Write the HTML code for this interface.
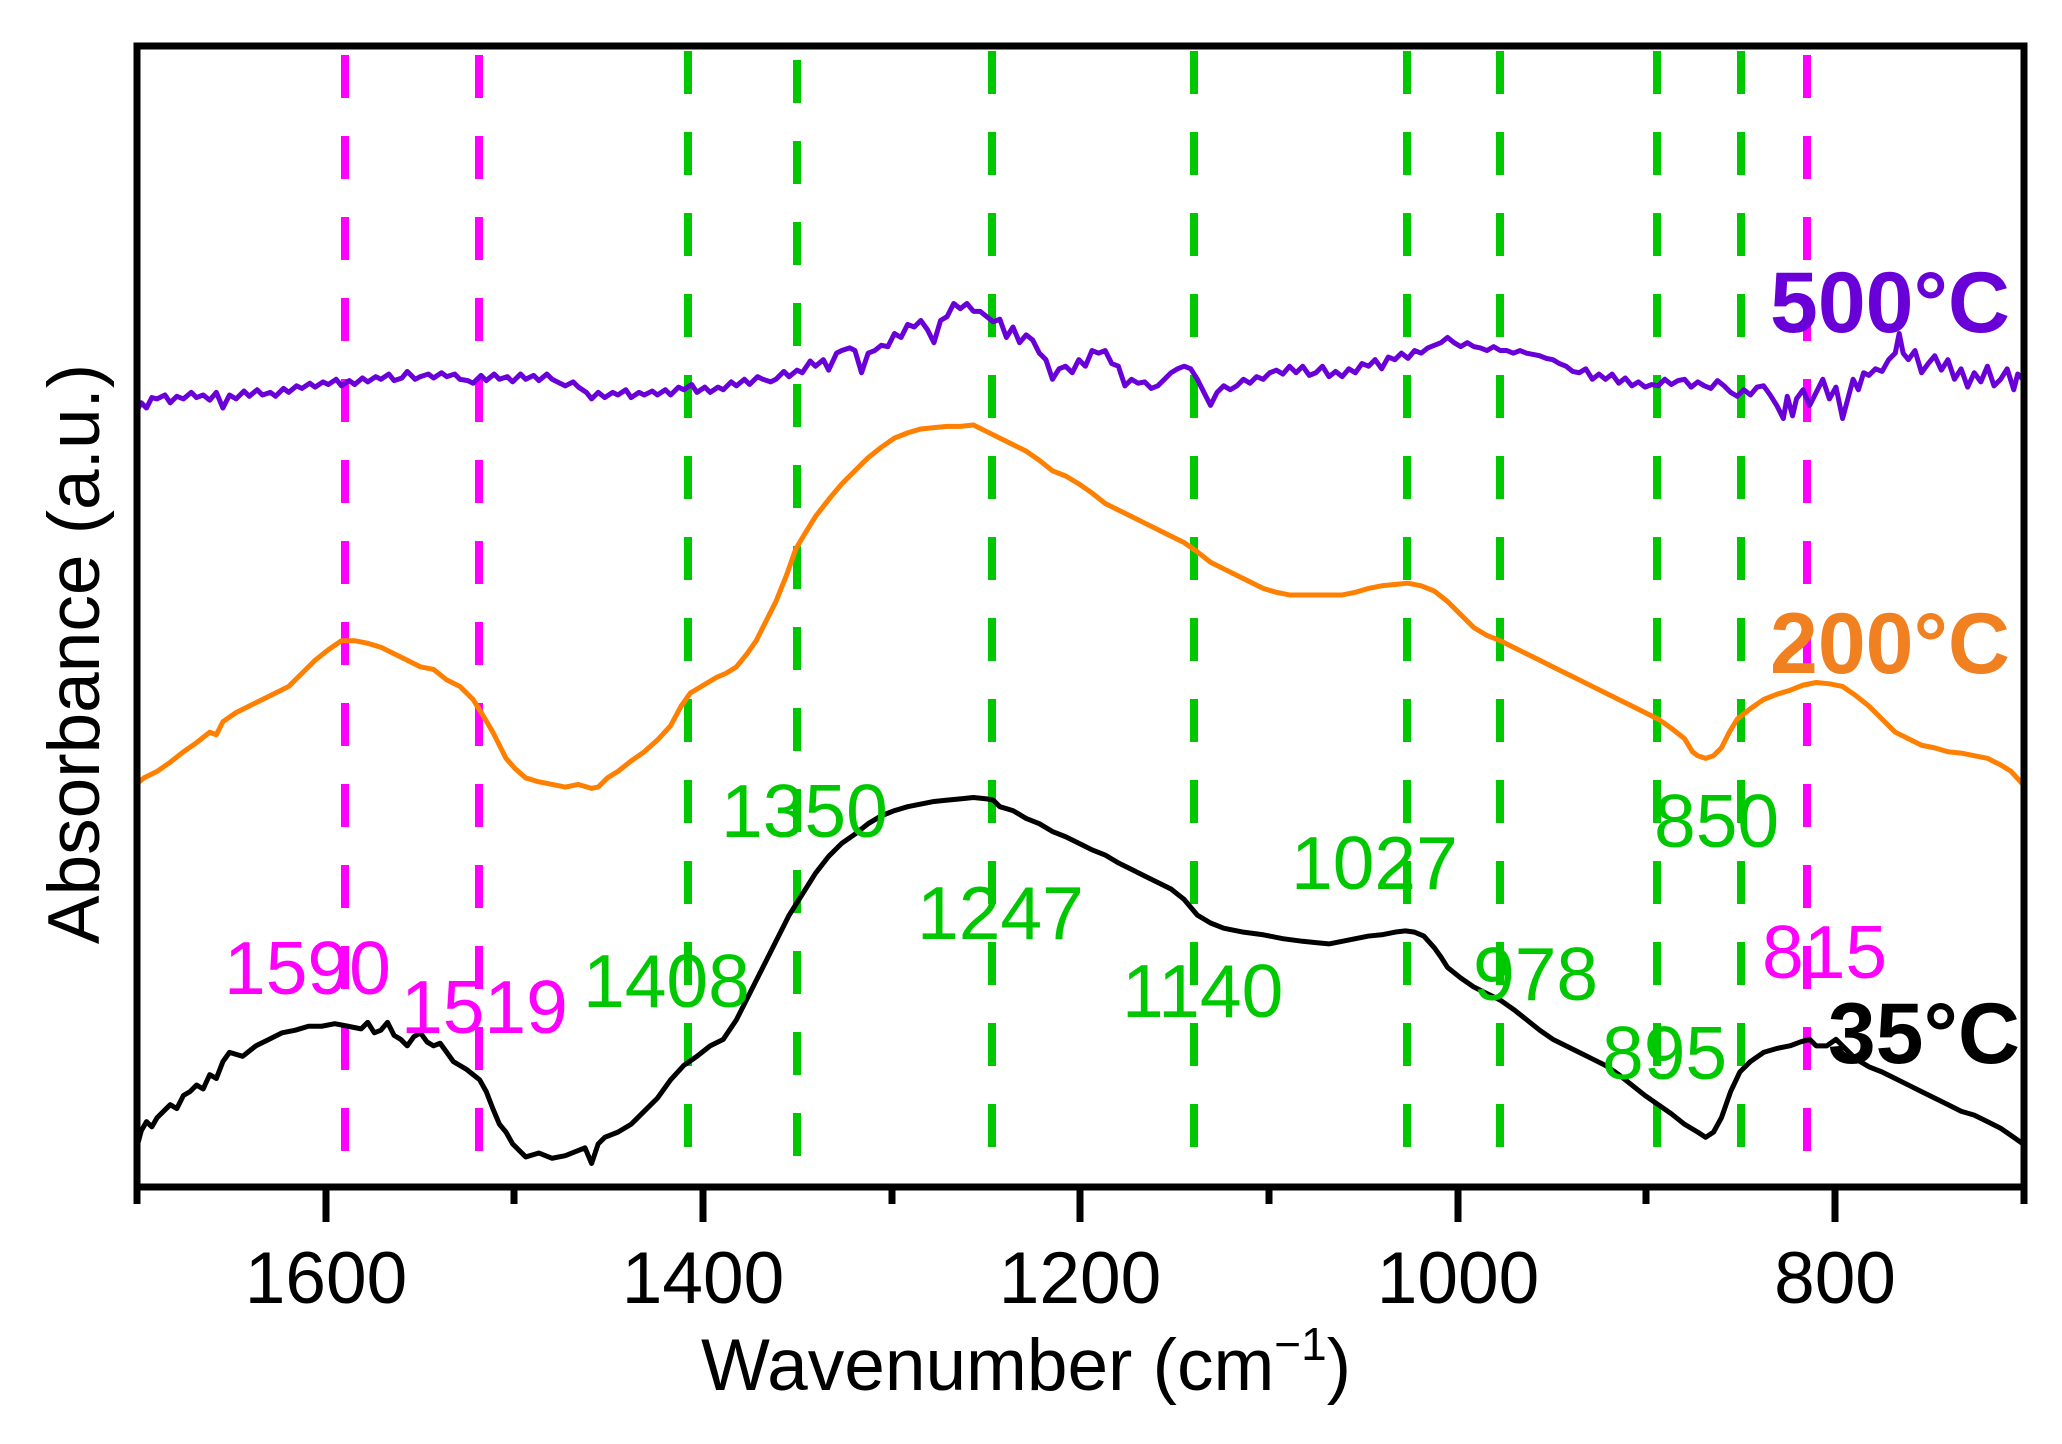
<!DOCTYPE html>
<html><head><meta charset="utf-8"><style>
html,body{margin:0;padding:0;background:#fff;}
svg{display:block;}
text{font-family:"Liberation Sans",Arial,sans-serif;}
</style></head><body>
<svg width="2062" height="1444" viewBox="0 0 2062 1444" xmlns="http://www.w3.org/2000/svg">
<rect width="2062" height="1444" fill="#fff"/>
<g stroke-width="8" stroke-dasharray="43,38" fill="none">
<line x1="345" y1="55" x2="345" y2="1183" stroke="#ff00ff"/>
<line x1="479" y1="55" x2="479" y2="1183" stroke="#ff00ff"/>
<line x1="688" y1="51" x2="688" y2="1183" stroke="#00c800"/>
<line x1="797" y1="60" x2="797" y2="1183" stroke="#00c800"/>
<line x1="992" y1="51" x2="992" y2="1183" stroke="#00c800"/>
<line x1="1194" y1="51" x2="1194" y2="1183" stroke="#00c800"/>
<line x1="1407" y1="51" x2="1407" y2="1183" stroke="#00c800"/>
<line x1="1500" y1="51" x2="1500" y2="1183" stroke="#00c800"/>
<line x1="1657" y1="51" x2="1657" y2="1183" stroke="#00c800"/>
<line x1="1741" y1="51" x2="1741" y2="1183" stroke="#00c800"/>
<line x1="1807" y1="55" x2="1807" y2="1183" stroke="#ff00ff"/>
</g>
<g transform="matrix(1.3168 0 0 1.307 -0.95 0.26)" fill="none" stroke-linejoin="round">
<polyline vector-effect="non-scaling-stroke" stroke="#000" stroke-width="5" points="104,880 108,865 112,858 116,862 120,855 125,850 130,845 135,848 140,838 145,835 150,830 155,833 160,822 165,825 170,812 175,805 185,808 195,800 205,795 215,790 225,788 235,785 245,785 255,783 265,785 275,787 280,782 285,790 290,788 295,782 300,792 305,795 310,800 315,793 320,790 325,797 330,800 335,798 340,805 345,812 350,815 355,818 360,822 365,826 370,835 375,848 380,860 385,866 390,875 395,880 400,885 410,882 420,886 430,884 440,880 445,878 450,890 455,875 460,870 470,866 480,860 490,850 500,840 510,826 520,815 530,808 540,800 550,795 560,780 565,770 570,760 575,750 580,740 585,730 590,720 595,710 600,700 610,684 620,668 630,655 640,645 650,638 660,630 670,624 680,620 690,617 700,615 710,613 720,612 730,611 740,610 750,611 755,612 760,617 770,620 780,626 790,630 800,636 810,640 820,645 830,650 840,654 850,660 860,665 870,670 880,675 890,680 900,688 910,700 920,706 930,710 945,713 960,715 975,718 990,720 1000,721 1010,722 1020,720 1030,718 1040,716 1050,715 1060,713 1068,712 1075,713 1082,716 1090,725 1095,732 1100,740 1110,748 1120,755 1130,760 1140,765 1150,772 1160,780 1170,788 1180,795 1190,800 1200,805 1210,810 1220,815 1230,822 1240,830 1250,838 1260,845 1270,852 1280,860 1290,866 1296,870 1302,866 1308,855 1315,835 1322,820 1330,812 1340,805 1350,802 1360,800 1368,797 1375,795 1380,800 1388,800 1395,795 1402,802 1410,810 1420,816 1430,820 1440,825 1450,830 1460,835 1470,840 1480,845 1490,850 1500,853 1510,858 1520,863 1530,870 1537,875"/>
<polyline vector-effect="non-scaling-stroke" stroke="#ff7f00" stroke-width="5" points="104,600 110,595 120,590 130,583 140,575 150,568 160,560 165,562 170,552 180,545 190,540 200,535 210,530 220,525 230,515 240,505 250,497 260,490 270,490 280,492 290,495 300,500 310,505 320,510 330,512 340,520 350,525 360,535 368,548 375,560 380,570 385,580 392,588 400,595 410,598 420,600 430,602 440,600 450,603 455,602 462,595 470,590 480,582 490,575 500,566 510,555 518,540 525,530 535,524 545,518 552,515 560,510 568,500 575,490 582,476 590,460 598,440 605,420 612,408 620,395 630,382 640,370 650,360 660,350 670,342 680,335 690,331 700,328 710,327 720,326 730,326 740,325 750,330 760,335 770,340 780,345 790,352 800,360 810,364 820,370 830,377 840,385 850,390 860,395 870,400 880,405 890,410 900,415 910,422 920,430 930,435 940,440 950,445 960,450 970,453 980,455 990,455 1000,455 1010,455 1020,455 1030,453 1040,450 1050,448 1060,447 1070,446 1080,448 1090,452 1100,460 1110,470 1120,480 1130,486 1140,490 1150,495 1160,500 1170,505 1180,510 1190,515 1200,520 1210,525 1220,530 1230,535 1240,540 1250,545 1260,550 1270,557 1280,565 1286,575 1290,578 1296,580 1302,578 1308,572 1314,560 1320,550 1330,542 1340,535 1350,531 1360,528 1370,524 1380,522 1390,523 1400,525 1410,532 1420,540 1430,550 1440,560 1450,565 1460,570 1470,572 1480,575 1490,576 1500,578 1510,580 1520,585 1528,590 1537,600"/>
<polyline vector-effect="non-scaling-stroke" stroke="#6a00d8" stroke-width="5" points="104,315 108,308 112,312 116,304 120,305 126,302 130,308 135,303 140,305 146,300 150,304 155,302 160,306 165,300 170,312 175,302 180,305 186,299 190,303 196,298 200,302 206,300 210,303 216,297 220,300 226,295 230,297 236,293 240,296 246,292 250,294 256,290 260,295 266,291 270,294 276,289 280,292 286,288 290,290 296,286 300,291 306,289 310,284 316,290 320,288 326,286 330,289 336,285 340,288 346,286 350,290 356,291 360,293 366,287 370,291 376,286 380,290 386,288 390,292 396,286 400,290 406,287 410,291 416,286 420,290 426,293 430,295 436,292 440,296 446,300 450,305 455,300 460,304 466,300 470,302 476,298 480,304 486,300 490,302 496,299 500,302 506,298 510,302 516,296 520,298 526,294 530,300 536,296 540,300 546,296 550,298 556,292 560,295 566,290 570,294 576,288 580,290 586,292 590,290 596,284 600,288 606,283 610,285 616,276 620,280 626,275 630,283 636,270 640,268 646,266 650,268 655,285 660,270 665,268 670,264 675,265 680,255 685,258 690,248 695,250 700,245 705,252 710,262 715,245 720,242 725,232 730,236 735,232 740,238 745,238 750,242 755,246 760,244 765,258 770,250 775,262 780,256 785,260 790,270 795,275 800,290 805,282 810,280 815,285 820,275 825,280 830,268 835,270 840,268 845,278 850,280 855,295 860,290 865,293 870,292 875,297 880,295 885,290 890,285 895,282 900,280 905,282 910,290 915,300 920,310 925,300 930,295 935,298 940,295 945,290 950,293 955,288 960,290 965,285 970,283 975,286 980,280 985,285 990,280 995,287 1000,285 1005,280 1010,288 1015,284 1020,288 1025,282 1030,285 1035,278 1040,280 1045,275 1050,282 1055,273 1060,275 1065,270 1070,274 1075,268 1080,270 1085,266 1090,264 1095,262 1100,258 1105,262 1110,265 1115,262 1120,265 1125,266 1130,268 1135,265 1140,268 1145,268 1150,270 1155,268 1160,270 1165,271 1170,272 1175,274 1180,275 1185,278 1190,280 1195,284 1200,285 1205,282 1210,290 1215,286 1220,290 1225,286 1230,293 1235,289 1240,295 1245,292 1250,296 1255,294 1260,295 1265,290 1270,294 1275,291 1280,290 1285,296 1290,292 1295,295 1300,297 1305,291 1310,295 1315,300 1320,303 1325,298 1330,302 1335,296 1340,295 1345,302 1350,310 1355,320 1358,303 1362,318 1365,305 1370,298 1375,310 1380,300 1385,290 1390,305 1395,296 1400,320 1404,305 1408,290 1412,298 1416,285 1420,287 1425,282 1430,284 1435,275 1440,270 1443,255 1446,270 1450,275 1455,268 1460,285 1465,278 1470,272 1475,283 1480,275 1485,290 1490,282 1495,296 1500,285 1505,292 1510,280 1515,295 1520,290 1525,282 1530,298 1533,286 1537,290"/>
</g>
<rect x="137" y="46" width="1887" height="1141" fill="none" stroke="#000" stroke-width="7"/>
<g stroke="#000" stroke-width="7">
<line x1="137" y1="1187" x2="137" y2="1204"/>
<line x1="326" y1="1187" x2="326" y2="1222"/>
<line x1="514" y1="1187" x2="514" y2="1204"/>
<line x1="703" y1="1187" x2="703" y2="1222"/>
<line x1="892" y1="1187" x2="892" y2="1204"/>
<line x1="1080" y1="1187" x2="1080" y2="1222"/>
<line x1="1269" y1="1187" x2="1269" y2="1204"/>
<line x1="1458" y1="1187" x2="1458" y2="1222"/>
<line x1="1646" y1="1187" x2="1646" y2="1204"/>
<line x1="1835" y1="1187" x2="1835" y2="1222"/>
<line x1="2024" y1="1187" x2="2024" y2="1204"/>
</g>
<g font-size="73" text-anchor="middle" fill="#000">
<text x="326" y="1303">1600</text>
<text x="703" y="1303">1400</text>
<text x="1080" y="1303">1200</text>
<text x="1458" y="1303">1000</text>
<text x="1835" y="1303">800</text>
<text x="1026" y="1390">Wavenumber (cm<tspan font-size="46" dy="-30">−1</tspan><tspan dy="30">)</tspan></text>
<text transform="translate(99,654) rotate(-90)">Absorbance (a.u.)</text>
</g>
<g font-size="75">
<text x="224" y="994" fill="#ff00ff">1590</text>
<text x="401" y="1033" fill="#ff00ff">1519</text>
<text x="583" y="1007" fill="#00c800">1408</text>
<text x="721" y="837" fill="#00c800">1350</text>
<text x="917" y="939" fill="#00c800">1247</text>
<text x="1122" y="1017" fill="#00c800">1140</text>
<text x="1291" y="889" fill="#00c800">1027</text>
<text x="1473" y="1000" fill="#00c800">978</text>
<text x="1602" y="1079" fill="#00c800">895</text>
<text x="1654" y="847" fill="#00c800">850</text>
<text x="1762" y="978" fill="#ff00ff">815</text>
</g>
<g font-size="86" font-weight="bold" text-anchor="end">
<text x="2010" y="332" fill="#6a00d8">500°C</text>
<text x="2010" y="673" fill="#f08020">200°C</text>
<text x="2020" y="1063" fill="#000">35°C</text>
</g>
</svg>
</body></html>
